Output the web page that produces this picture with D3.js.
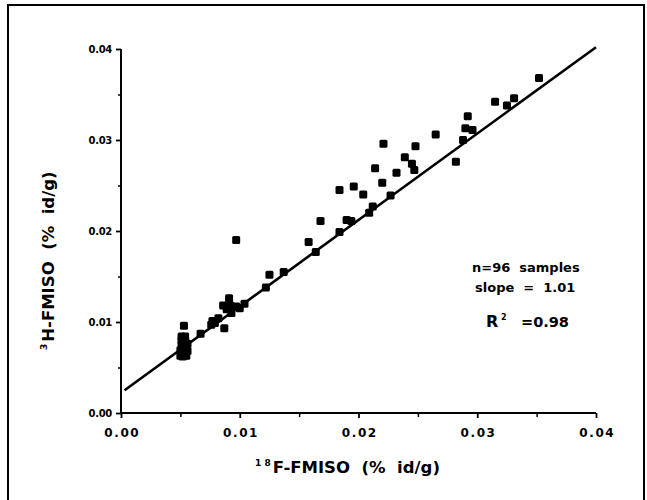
<!DOCTYPE html>
<html>
<head>
<meta charset="utf-8">
<script src="https://cdn.jsdelivr.net/npm/d3@7"></script>
<style>
html,body{margin:0;padding:0;background:#fff;}
svg{display:block;}
text{font-family:"DejaVu Sans","Liberation Sans",sans-serif;font-weight:bold;fill:#000;}
</style>
</head>
<body>
<svg id="chart" width="647" height="500"></svg>
<script>
// 18F-FMISO (x) vs 3H-FMISO (y), % id/g
const xVals = [0.0352,0.0331,0.0325,0.0315,0.0292,0.0290,0.0296,0.0288,0.0282,0.0265,
  0.0248,0.0245,0.0247,0.0239,0.0232,0.0227,0.0221,0.0220,0.0214,0.0212,
  0.0209,0.0204,0.0196,0.0184,0.0190,0.0194,0.0184,0.0168,0.0164,0.0158,
  0.0137,0.0125,0.0122,0.0097,0.0104,0.0097,0.0091,0.0093,0.0086,0.0089,
  0.0087,0.0082,0.0077,0.0076,0.0079,0.0067,0.0053,0.0051,0.0054,0.0051,
  0.0054,0.0051,0.0053,0.0050,0.0055,0.0052,0.0056,0.0052,0.0054,0.0050,
  0.0055,0.0053,0.0056,0.0051,0.0092,0.0100];
const yVals = [0.0368,0.0346,0.0338,0.0342,0.0326,0.0313,0.0311,0.0300,0.0276,0.0306,
  0.0293,0.0274,0.0267,0.0281,0.0264,0.0239,0.0296,0.0253,0.0269,0.0227,
  0.0220,0.0240,0.0249,0.0245,0.0212,0.0211,0.0199,0.0211,0.0177,0.0188,
  0.0155,0.0152,0.0138,0.0190,0.0120,0.0117,0.0126,0.0110,0.0118,0.0114,
  0.0093,0.0104,0.0101,0.0097,0.0099,0.0087,0.0096,0.0084,0.0084,0.0075,
  0.0080,0.0066,0.0064,0.0069,0.0072,0.0062,0.0076,0.0070,0.0067,0.0063,
  0.0063,0.0078,0.0068,0.0080,0.0118,0.0115];
const fitX = [0.0003, 0.0400];
const fitY = [0.0025, 0.0402];
const xTicks = [0, 0.01, 0.02, 0.03, 0.04];
const yTicks = [0, 0.01, 0.02, 0.03, 0.04];
const minorTicks = [0.005, 0.015, 0.025, 0.035];
const NB = "\u00a0";
const statsLines = ["n=96" + NB+NB + "samples", "slope" + NB+NB + "=" + NB+NB + "1.01"];
const xTitle = ["1" + NB + "8", "F-FMISO" + NB+NB + "(%" + NB+NB + "id/g)"];
const yTitle = ["3", "H-FMISO" + NB+NB + "(%" + NB+NB + "id/g)"];

const svg = d3.select("#chart");
// outer frame
svg.append("rect").attr("x",8).attr("y",5).attr("width",636).attr("height",510)
  .attr("fill","none").attr("stroke","#000").attr("stroke-width",2);

const x = d3.scaleLinear().domain([0,0.04]).range([121,596]);
const y = d3.scaleLinear().domain([0,0.04]).range([413,49]);

// y axis
const gy = svg.append("g").attr("transform","translate(121,0)")
  .call(d3.axisLeft(y).tickValues(yTicks).tickFormat(d3.format(".2f")).tickSize(5).tickPadding(4));
gy.select(".domain").attr("stroke-width",2).attr("d","M0,413V49");
gy.selectAll(".tick line").attr("stroke-width",1.8);
gy.selectAll(".tick text").style("font-size","10px").attr("letter-spacing","-0.3px");
const gym = svg.append("g").attr("transform","translate(121,0)")
  .call(d3.axisLeft(y).tickValues(minorTicks).tickFormat("").tickSize(3));
gym.select(".domain").remove();
gym.selectAll(".tick line").attr("stroke-width",1.5);

// x axis
const gx = svg.append("g").attr("transform","translate(0,413)")
  .call(d3.axisBottom(x).tickValues(xTicks).tickFormat(d3.format(".2f")).tickSize(5).tickPadding(10));
gx.select(".domain").attr("stroke-width",2).attr("d","M121,0H596");
gx.selectAll(".tick line").attr("stroke-width",1.8);
gx.selectAll(".tick text").style("font-size","12px").attr("letter-spacing","1.6px").attr("dx","0.8");
const gxm = svg.append("g").attr("transform","translate(0,413)")
  .call(d3.axisBottom(x).tickValues(minorTicks).tickFormat("").tickSize(4));
gxm.select(".domain").remove();
gxm.selectAll(".tick line").attr("stroke-width",1.5);

// regression line
svg.append("line")
  .attr("x1",x(fitX[0])).attr("y1",y(fitY[0]))
  .attr("x2",x(fitX[1])).attr("y2",y(fitY[1]))
  .attr("stroke","#000").attr("stroke-width",2.6);

// points
const pts = xVals.map((v,i)=>({x:v,y:yVals[i]}));
const s = 8;
svg.append("g").selectAll("rect").data(pts).join("rect")
  .attr("x",d=>x(d.x)-s/2).attr("y",d=>y(d.y)-s/2)
  .attr("width",s).attr("height",s).attr("rx",1.5).attr("fill","#000");

// axis titles
function title(sel, parts) {
  sel.append("tspan").style("font-size","9px").attr("dy","-7").text(parts[0]);
  sel.append("tspan").style("font-size","16.5px").attr("dx","2").attr("dy","7").text(parts[1]);
}
title(svg.append("text").attr("x",255).attr("y",473), xTitle);
title(svg.append("text").attr("transform","translate(54,350) rotate(-90)"), yTitle);

// stats
svg.append("text").attr("x",472).attr("y",272).style("font-size","13px").text(statsLines[0]);
svg.append("text").attr("x",475).attr("y",292).style("font-size","13px").text(statsLines[1]);
svg.append("text").attr("x",486).attr("y",327).style("font-size","16px").text("R");
svg.append("text").attr("x",501).attr("y",320).style("font-size","8px").text("2");
svg.append("text").attr("x",521).attr("y",327).style("font-size","14.5px").text("=0.98");
</script>
</body>
</html>
